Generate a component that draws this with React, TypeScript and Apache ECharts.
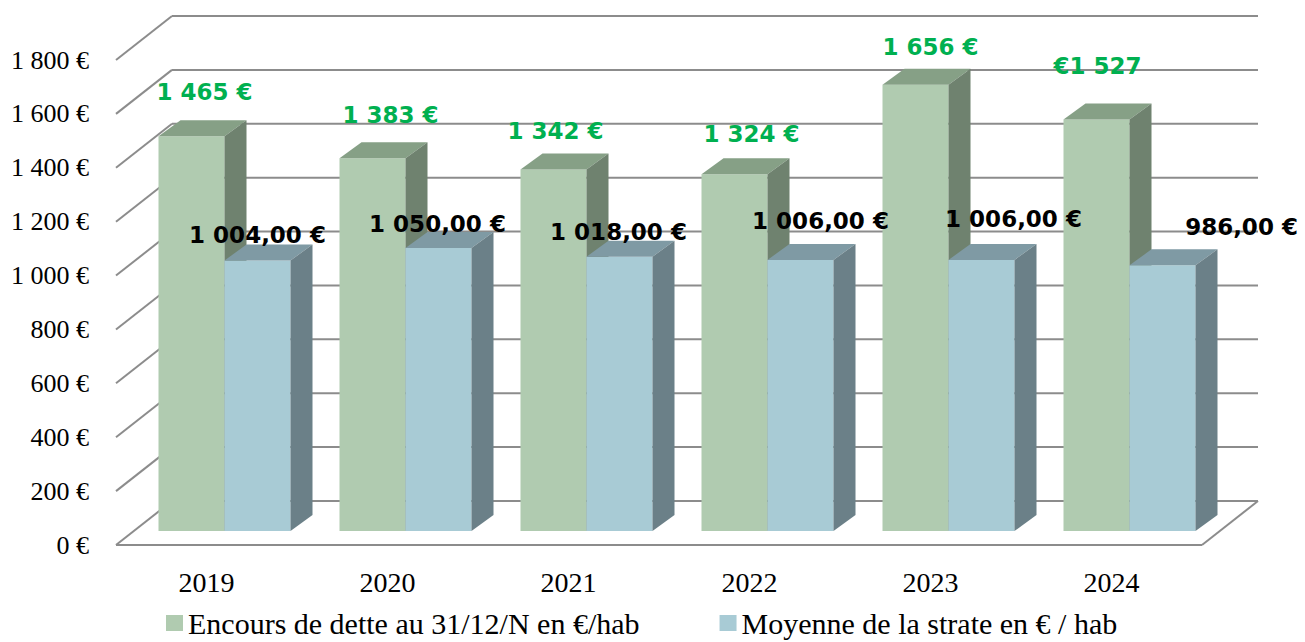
import React, { useEffect, useRef } from "react";
import * as echarts from "echarts";

const categories = ["2019", "2020", "2021", "2022", "2023", "2024"];
const encours = [1465, 1383, 1342, 1324, 1656, 1527];
const moyenne = [1004, 1050, 1018, 1006, 1006, 986];
const encoursLabels = ["1 465 €", "1 383 €", "1 342 €", "1 324 €", "1 656 €", "€1 527"];
const moyenneLabels = ["1 004,00 €", "1 050,00 €", "1 018,00 €", "1 006,00 €", "1 006,00 €", "986,00 €"];
const yTicks = [0, 200, 400, 600, 800, 1000, 1200, 1400, 1600, 1800];
const seriesNames = ["Encours de dette au 31/12/N en €/hab", "Moyenne de la strate en € / hab"];

// label nudges (pixels) relative to the top-centre of each bar's front face
const encoursLabelShift = [[13, -44], [18, -43], [2, -38], [17, -40], [15, -38], [1, -54]];
const moyenneLabelShift = [[0, -25], [-1, -24], [-1, -25], [20, -39], [32, -41], [79, -38]];

const WALL_DX = 56, WALL_DY = -44;
const BAR_OX = 18, BAR_OY = -14;
const BAR_DX = 22, BAR_DY = -16;
const BAR_W_FRAC = 66 / 181;

const GRID_COLOR = "#8c8c8c";
const COLORS = [
  { front: "#b0cbb0", top: "#86a086", side: "#6f826f", label: "#00b050" },
  { front: "#a8cbd5", top: "#7f9aa4", side: "#6b8088", label: "#000000" },
];
const SERIF = "'Liberation Serif', serif";
const SANS = "'DejaVu Sans', Verdana, sans-serif";

function wallRender(params: any, api: any) {
  const v = api.value(1);
  const p = api.coord([0, v]);
  const bw = api.size([1, 0])[0];
  const xl = p[0] - bw / 2;
  const xr = xl + bw * categories.length;
  const y = p[1];
  const ls = { stroke: GRID_COLOR, lineWidth: 2, fill: null };
  const children: any[] = [
    { type: "line", shape: { x1: xl, y1: y, x2: xl + WALL_DX, y2: y + WALL_DY }, style: ls },
    { type: "line", shape: { x1: xl + WALL_DX, y1: y + WALL_DY, x2: xr + WALL_DX, y2: y + WALL_DY }, style: ls },
  ];
  if (v === 0) {
    children.push({ type: "line", shape: { x1: xl, y1: y, x2: xr, y2: y }, style: ls });
    children.push({ type: "line", shape: { x1: xr, y1: y, x2: xr + WALL_DX, y2: y + WALL_DY }, style: ls });
  }
  return { type: "group", children };
}

function makeBarRender(sIdx: number, labels: string[], shifts: number[][]) {
  return (params: any, api: any) => {
    const i = api.value(0);
    const v = api.value(1);
    const p0 = api.coord([i, 0]);
    const p1 = api.coord([i, v]);
    const bw = api.size([1, 0])[0];
    const w = bw * BAR_W_FRAC;
    const cx = p0[0] + BAR_OX;
    const xl = sIdx === 0 ? cx - w : cx;
    const xr = xl + w;
    const yb = p0[1] + BAR_OY;
    const yt = p1[1] + BAR_OY;
    const c = COLORS[sIdx];
    const sh = shifts[i];
    return {
      type: "group",
      children: [
        { type: "rect", shape: { x: xl, y: yt, width: w, height: yb - yt }, style: { fill: c.front } },
        {
          type: "polygon",
          shape: { points: [[xl, yt], [xr, yt], [xr + BAR_DX, yt + BAR_DY], [xl + BAR_DX, yt + BAR_DY]] },
          style: { fill: c.top },
        },
        {
          type: "polygon",
          shape: { points: [[xr, yt], [xr + BAR_DX, yt + BAR_DY], [xr + BAR_DX, yb + BAR_DY], [xr, yb]] },
          style: { fill: c.side },
        },
        {
          type: "text",
          x: xl + w / 2 + sh[0],
          y: yt + sh[1],
          style: {
            text: labels[i],
            fill: c.label,
            font: `bold 23px ${SANS}`,
            align: "center",
            verticalAlign: "middle",
            textAlign: "center",
            textVerticalAlign: "middle",
          },
        },
      ],
    };
  };
}

export default function App() {
  const ref = useRef<HTMLDivElement>(null);
  useEffect(() => {
    document.body.style.margin = "0";
    const chart = echarts.init(ref.current!, null, { renderer: "svg" });
    chart.setOption({
      animation: false,
      backgroundColor: "#ffffff",
      grid: { left: 116, right: 103, top: 60, bottom: 97, containLabel: false },
      legend: {
        data: seriesNames.map((n) => ({ name: n, icon: "rect" })),
        top: 608,
        left: 166,
        itemWidth: 17,
        itemHeight: 16,
        itemGap: 80,
        padding: 0,
        textStyle: { fontFamily: SERIF, fontSize: 30, color: "#000", lineHeight: 30 },
      },
      xAxis: {
        type: "category",
        data: categories,
        axisLine: { show: false },
        axisTick: { show: false },
        splitLine: { show: false },
        axisLabel: { fontFamily: SERIF, fontSize: 28, color: "#000", margin: 23 },
      },
      yAxis: {
        type: "value",
        min: 0,
        max: 1800,
        interval: 200,
        axisLine: { show: false },
        axisTick: { show: false },
        splitLine: { show: false },
        axisLabel: {
          fontFamily: SERIF,
          fontSize: 26,
          color: "#000",
          margin: 27,
          formatter: (v: number) => (v >= 1000 ? `${Math.floor(v / 1000)} ${String(v % 1000).padStart(3, "0")} €` : `${v} €`),
        },
      },
      series: [
        {
          type: "custom",
          name: "grid",
          z: 1,
          clip: false,
          silent: true,
          renderItem: wallRender,
          data: yTicks.map((v) => [0, v]),
        },
        {
          type: "custom",
          name: seriesNames[0],
          z: 2,
          clip: false,
          itemStyle: { color: COLORS[0].front },
          renderItem: makeBarRender(0, encoursLabels, encoursLabelShift),
          data: encours.map((v, i) => [i, v]),
        },
        {
          type: "custom",
          name: seriesNames[1],
          z: 3,
          clip: false,
          itemStyle: { color: COLORS[1].front },
          renderItem: makeBarRender(1, moyenneLabels, moyenneLabelShift),
          data: moyenne.map((v, i) => [i, v]),
        },
      ],
    });
    return () => chart.dispose();
  }, []);
  return <div ref={ref} style={{ width: 1305, height: 642 }} />;
}
